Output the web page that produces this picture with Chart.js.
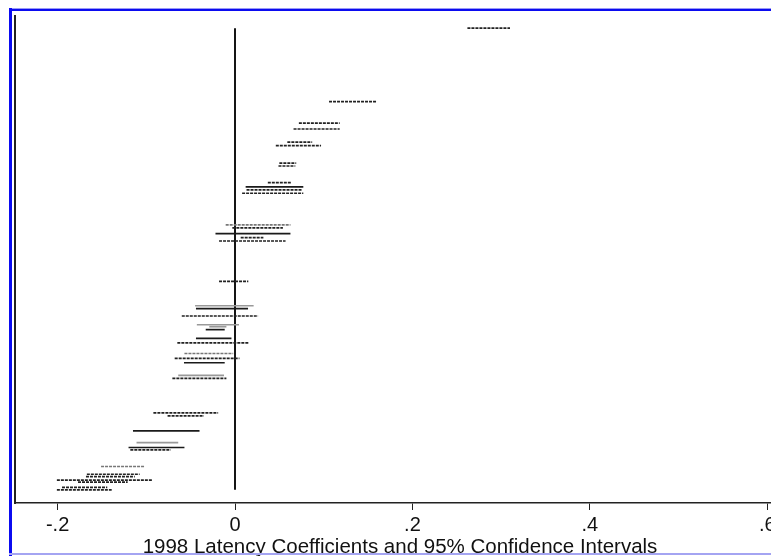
<!DOCTYPE html>
<html>
<head>
<meta charset="utf-8">
<script src="https://cdn.jsdelivr.net/npm/chart.js@4.4.1/dist/chart.umd.min.js"></script>
<style>
  html, body { margin: 0; padding: 0; background: #fff; overflow: hidden; }
  #wrap { position: relative; width: 771px; height: 556px; overflow: hidden; }
  #chartBox { position: absolute; left: 0; top: 0; width: 800px; height: 559px; }
  .frame { position: absolute; }
</style>
</head>
<body>
<div id="wrap">
  <div id="chartBox"><canvas id="myChart"></canvas></div>
  <div class="frame" style="left:9px;top:8px;width:762px;height:1px;background:#9a9af5"></div>
  <div class="frame" style="left:9px;top:9px;width:762px;height:2px;background:#0b0bf0"></div>
  <div class="frame" style="left:9px;top:8px;width:3px;height:548px;background:#0b0bf0"></div>
  <div class="frame" style="left:9px;top:553px;width:762px;height:2px;background:#a4a4f2"></div>
</div>
<script>
// row position of each coefficient (ranked, top = largest)
const rows = [97.5, 82.4, 78.0, 76.8, 74.1, 73.4, 69.8, 69.2, 65.8, 64.9, 64.3, 63.6,
  57.1, 56.5, 55.3, 54.5, 53.8, 45.5, 40.5, 39.9, 38.4, 36.6, 36.2, 35.6, 33.8, 32.9,
  30.7, 29.7, 28.8, 26.2, 25.6, 18.5, 17.9, 14.8, 12.4, 11.4, 10.9, 7.5, 5.9, 5.4,
  4.7, 4.3, 3.2, 2.7];

// lower and upper ends of the 95% intervals
const lower = [0.262, 0.106, 0.072, 0.066, 0.059, 0.046, 0.050, 0.049, 0.037, 0.012, 0.013, 0.008,
  -0.0105, -0.003, -0.022, 0.0064, -0.018, -0.018, -0.045, -0.044, -0.060, -0.043, -0.029, -0.033, -0.044, -0.065,
  -0.057, -0.068, -0.0575, -0.064, -0.0706, -0.092, -0.076, -0.115, -0.111, -0.120, -0.118, -0.151, -0.167, -0.168,
  -0.2008, -0.177, -0.195, -0.2008];
const upper = [0.310, 0.159, 0.118, 0.118, 0.087, 0.097, 0.069, 0.068, 0.063, 0.077, 0.075, 0.077,
  0.0625, 0.054, 0.0625, 0.032, 0.057, 0.015, 0.021, 0.0147, 0.026, 0.0045, -0.0097, -0.0116, -0.004, 0.015,
  -0.002, 0.005, -0.0116, -0.0124, -0.0097, -0.019, -0.035, -0.040, -0.064, -0.057, -0.0725, -0.102, -0.1075, -0.113,
  -0.093, -0.121, -0.144, -0.139];

// how each interval was printed: d = dotted, s = solid, g = grey, gd = grey dotted
const lineKind = ['d', 'd', 'd', 'd', 'd', 'd', 'd', 'd', 'd', 's', 'd', 'd',
  'gd', 'd', 's', 'd', 'd', 'd', 'g', 's', 'd', 'g', 'g', 's', 's', 'd',
  'gd', 'd', 's', 'g', 'd', 'd', 'd', 's', 'g', 's', 'd', 'gd', 'd', 'd',
  'd', 'd', 'd', 'd'];

const tickValues = [-0.2, 0, 0.2, 0.4, 0.6];
const tickLabels = ['-.2', '0', '.2', '.4', '.6'];

const kindStyle = {
  d: { color: '#222', dash: [3, 1] },
  s: { color: '#1a1a1a', dash: [] },
  g: { color: '#999', dash: [] },
  gd: { color: '#777', dash: [3, 1] }
};

const datasets = rows.map((r, i) => ({
  data: [{ x: lower[i], y: r }, { x: upper[i], y: r }],
  borderColor: kindStyle[lineKind[i]].color,
  borderDash: kindStyle[lineKind[i]].dash,
  borderWidth: 1.7
}));

// zero reference line across all rows
datasets.push({
  data: [{ x: 0, y: Math.min(...rows) }, { x: 0, y: Math.max(...rows) }],
  borderColor: '#151515',
  borderWidth: 2
});

const font = { family: 'Liberation Sans, Arial, sans-serif', size: 20, lineHeight: 1.1 };

new Chart(document.getElementById('myChart'), {
  type: 'line',
  data: { datasets: datasets },
  options: {
    responsive: true,
    maintainAspectRatio: false,
    animation: false,
    layout: { padding: { left: 15, top: 16, right: 15, bottom: 0 } },
    elements: { point: { radius: 0 }, line: { tension: 0 } },
    plugins: { legend: { display: false }, tooltip: { enabled: false } },
    scales: {
      x: {
        type: 'linear',
        min: -0.248,
        max: 0.62,
        afterBuildTicks: scale => { scale.ticks = tickValues.map(v => ({ value: v })); },
        afterFit: scale => { scale.height = 56; },
        ticks: {
          autoSkip: false,
          maxRotation: 0,
          padding: 4,
          color: '#111',
          font: font,
          callback: (value, index) => tickLabels[index]
        },
        grid: { drawOnChartArea: false, drawTicks: true, tickLength: 7, color: '#222' },
        border: { display: true, color: '#222', width: 1.5 },
        title: {
          display: true,
          text: '1998 Latency Coefficients and 95% Confidence Intervals',
          color: '#111',
          font: { family: 'Liberation Sans, Arial, sans-serif', size: 20.5, lineHeight: 1.1 },
          padding: { top: 1, bottom: 0 }
        }
      },
      y: {
        type: 'linear',
        min: 0,
        max: 100,
        ticks: { display: false },
        grid: { display: false, drawTicks: false },
        border: { display: true, color: '#222', width: 2 }
      }
    }
  }
});
</script>
</body>
</html>
